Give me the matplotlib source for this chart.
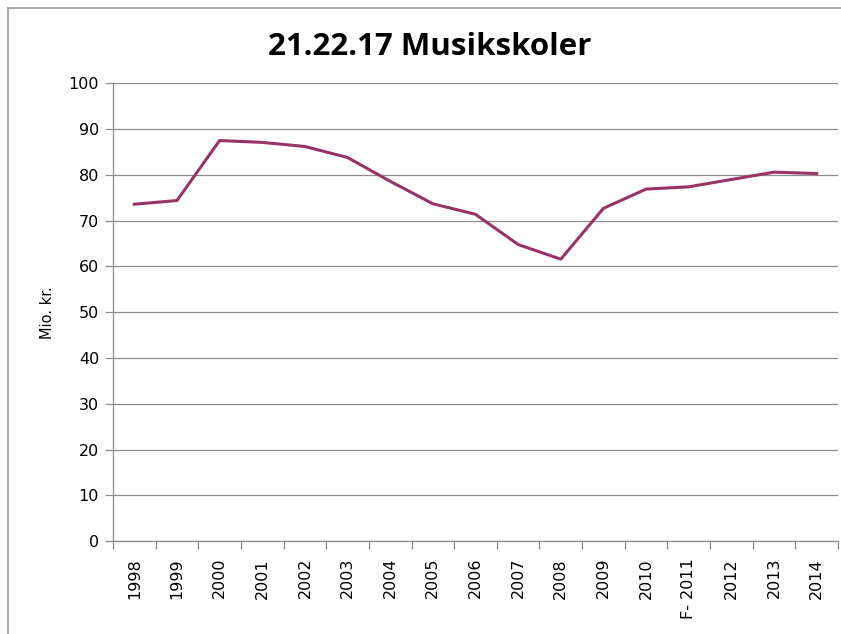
import matplotlib.pyplot as plt
from matplotlib.lines import Line2D

# data
years = ['1998', '1999', '2000', '2001', '2002', '2003', '2004', '2005', '2006',
         '2007', '2008', '2009', '2010', 'F- 2011', '2012', '2013', '2014']
values = [73.6, 74.4, 87.5, 87.1, 86.2, 83.8, 78.6, 73.7, 71.4,
          64.8, 61.6, 72.7, 76.9, 77.4, 79.0, 80.6, 80.3]
y_ticks = [0, 10, 20, 30, 40, 50, 60, 70, 80, 90, 100]

grid_col = '#8c8c8c'
line_col = '#983465'

fig = plt.figure(figsize=(8.41, 6.34), dpi=100)
ax = fig.add_axes([113 / 841, 1 - 541.3 / 634, (838 - 113) / 841, (541.3 - 83.3) / 634])

x = list(range(len(years)))
ax.plot(x, values, color=line_col, linewidth=2.2, solid_joinstyle='round', zorder=3)

ax.set_xlim(-0.5, len(years) - 0.5)
ax.set_ylim(0, 100)
ax.set_yticks(y_ticks)
ax.set_yticklabels([str(v) for v in y_ticks], fontsize=11.5)
ax.yaxis.grid(True, color=grid_col, linewidth=0.9)
ax.set_axisbelow(True)

# labels on categories, tick marks between categories
ax.set_xticks(x)
ax.set_xticklabels(years, rotation=90, fontsize=11.5, va='top')
ax.tick_params(axis='x', which='major', length=0, pad=12)
ax.set_xticks([i - 0.5 for i in range(len(years) + 1)], minor=True)
ax.tick_params(axis='x', which='minor', length=6, color=grid_col, width=0.9)
ax.tick_params(axis='y', length=6, color=grid_col, width=0.9, pad=4)

for s in ['top', 'right']:
    ax.spines[s].set_visible(False)
for s in ['left', 'bottom']:
    ax.spines[s].set_color(grid_col)
    ax.spines[s].set_linewidth(0.9)

ax.set_ylabel('Mio. kr.', fontsize=10.5, labelpad=10)
fig.text(430 / 841, 1 - 47 / 634, '21.22.17 Musikskoler', fontsize=22.5,
         fontweight='bold', family='Open Sans', ha='center', va='center')

# chart frame (only left and top edges visible in the reference)
fig.add_artist(Line2D([7.5 / 841, 7.5 / 841], [0, 1 - 7.5 / 634], color='#999999', linewidth=1.2))
fig.add_artist(Line2D([7.5 / 841, 1], [1 - 7.5 / 634, 1 - 7.5 / 634], color='#999999', linewidth=1.2))

plt.savefig('out.png', dpi=100)
